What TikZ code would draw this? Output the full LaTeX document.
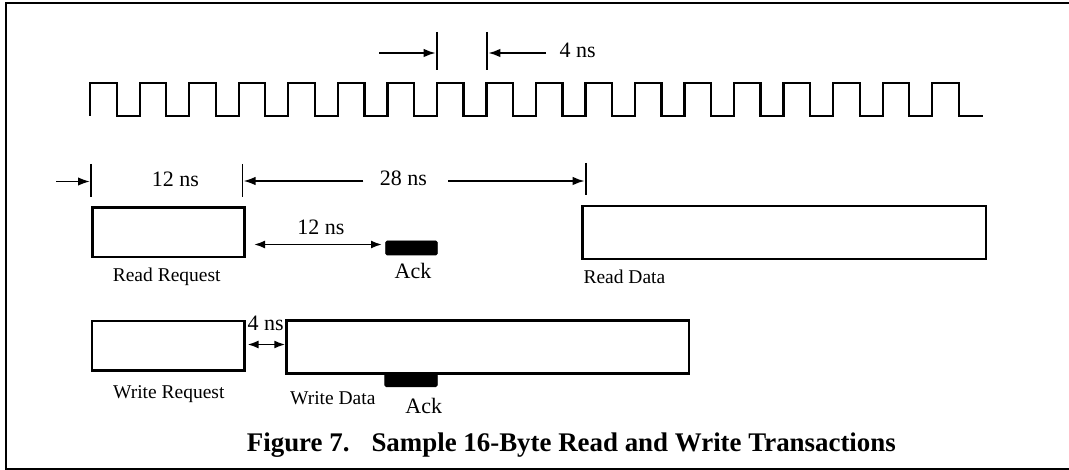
\documentclass[tikz,border=0pt]{standalone}
\usepackage{fontspec}
\setmainfont{Liberation Serif}
\usetikzlibrary{arrows.meta}
\tikzset{
  sigbox/.style={draw=black, line width=2.7pt, fill=white, rectangle, inner sep=0pt},
  ackbox/.style={draw=black, fill=black, line width=0.6pt, rectangle, rounded corners=1.5pt, inner sep=0pt},
  dimline/.style={line width=1.8pt, -{Latex[length=12pt,width=8.5pt]}},
  dimboth/.style={line width=1.8pt, {Latex[length=11pt,width=8pt]}-{Latex[length=11pt,width=8pt]}},
  tickline/.style={line width=1.9pt},
  clockline/.style={line width=2.3pt, line join=miter},
  framel/.style={line width=2pt},
  lbl/.style={inner sep=0pt, anchor=base, font=\fontsize{19.5}{22}\selectfont},
  dimlbl/.style={inner sep=0pt, anchor=base, font=\fontsize{22}{24}\selectfont},
  caplbl/.style={inner sep=0pt, anchor=base west, font=\bfseries\fontsize{26.9}{30}\selectfont}
}
\begin{document}
\begin{tikzpicture}[x=1pt,y=-1pt]
\useasboundingbox (0,0) rectangle (1069,470);
% frame
\coordinate (fTR) at (1069,3);
\coordinate (fTL) at (6,3);
\coordinate (fBL) at (6,468.5);
\coordinate (fBR) at (1069,468.5);
\draw[framel] (fTR) -- (fTL) -- (fBL) -- (fBR);
% clock
\draw[clockline] (90.2,116)
  \foreach \k in {0,...,17} {
    -- ({90.2+49.53*\k},83.3) -- ({90.2+49.53*\k+26.5},83.3) -- ({90.2+49.53*\k+26.5},116)
    \ifnum\k<17 -- ({90.2+49.53*(\k+1)},116)\fi
  } -- (983,116);
% 4 ns period marker
\coordinate (pA1) at (436.7,32); \coordinate (pA2) at (436.7,70);
\coordinate (pB1) at (487.3,32); \coordinate (pB2) at (487.3,70);
\draw[tickline] (pA1) -- (pA2);
\draw[tickline] (pB1) -- (pB2);
\coordinate (pAs) at (379.3,53); \coordinate (pAe) at (435.7,53);
\coordinate (pBs) at (546,53); \coordinate (pBe) at (488.3,53);
\draw[dimline] (pAs) -- (pAe);
\draw[dimline] (pBs) -- (pBe);
\node[dimlbl, anchor=base west] (t4ns) at (559.3,57.5) {4 ns};
% 12 ns / 28 ns markers
\coordinate (q1a) at (91,164); \coordinate (q1b) at (91,197);
\coordinate (q2a) at (242.5,164); \coordinate (q2b) at (242.5,197);
\coordinate (q3a) at (585.7,163); \coordinate (q3b) at (585.7,195);
\draw[tickline] (q1a) -- (q1b);
\draw[tickline] (q2a) -- (q2b);
\draw[tickline] (q3a) -- (q3b);
\coordinate (a1s) at (56,181.5); \coordinate (a1e) at (90,181.5);
\coordinate (a2s) at (363.3,181); \coordinate (a2e) at (243.5,181);
\coordinate (a3s) at (448.3,181); \coordinate (a3e) at (584.7,181);
\draw[dimline] (a1s) -- (a1e);
\draw[dimline] (a2s) -- (a2e);
\draw[dimline] (a3s) -- (a3e);
\node[dimlbl] (t12a) at (175.3,187) {12 ns};
\node[dimlbl] (t28) at (403.3,185.5) {28 ns};
% read row
\node[sigbox, minimum width=152.2pt, minimum height=49.7pt] (rr) at (168.4,232.2) {};
\node[sigbox, minimum width=403.4pt, minimum height=53pt] (rd) at (784.3,232.6) {};
\node[ackbox, minimum width=51.8pt, minimum height=14pt] (ackr) at (411.5,248) {};
\coordinate (rrA) at (254,244.5); \coordinate (rrB) at (382,244.5);
\draw[dimboth] (rrA) -- (rrB);
\node[dimlbl] (t12b) at (321,235) {12 ns};
\node[dimlbl] (tackr) at (413,279) {Ack};
\node[lbl] (trr) at (166.7,281.7) {Read Request};
\node[lbl, anchor=base west] (trd) at (583.3,284) {Read Data};
% write row
\node[sigbox, minimum width=152.2pt, minimum height=49.5pt] (wr) at (168.2,345.8) {};
\node[sigbox, minimum width=402.3pt, minimum height=53.2pt] (wd) at (487.85,346.9) {};
\node[ackbox, minimum width=52.5pt, minimum height=13pt, anchor=north] (ackw) at (411,373.5) {};
\coordinate (wA) at (247.5,344.5); \coordinate (wB) at (285.3,344.5);
\draw[dimboth] (wA) -- (wB);
\node[dimlbl, anchor=base west] (t4b) at (247.5,331) {4 ns};
\node[lbl] (twr) at (168.8,398.3) {Write Request};
\node[lbl] (twd) at (332.8,405) {Write Data};
\node[dimlbl] (tackw) at (423.8,413.3) {Ack};
% caption
\node[caplbl] (cap) at (246.7,451.7) {Figure 7.\hspace{22pt}Sample 16-Byte Read and Write Transactions};
\end{tikzpicture}
\end{document}
